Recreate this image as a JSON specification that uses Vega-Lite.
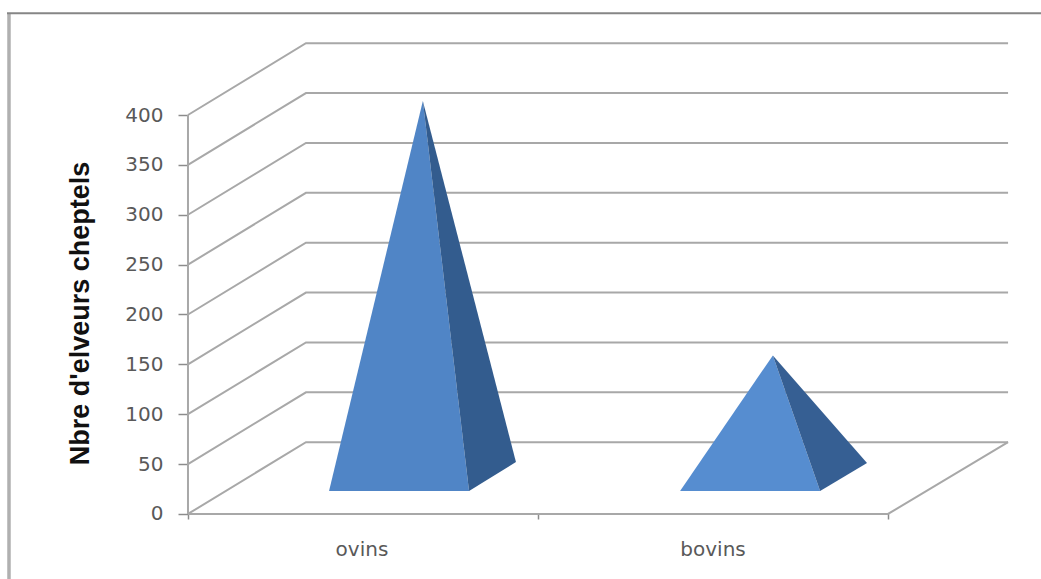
{
  "$schema": "https://vega.github.io/schema/vega-lite/v6.json",
  "width": 1041,
  "height": 579,
  "padding": 0,
  "autosize": {"type": "none"},
  "background": "#ffffff",
  "view": {"stroke": null},
  "config": {"axis": {"grid": false}},
  "datasets": {
    "frameLeft": [
      {"x": -0.5114, "y": -65.2},
      {"x": -0.5114, "y": 502}
    ],
    "frameTop": [
      {"x": -0.5171, "y": 502},
      {"x": 2.4371, "y": 502}
    ],
    "walls": [
      {"level": 0, "x": 0, "y": 0}, {"level": 0, "x": 0.337, "y": 72}, {"level": 0, "x": 2.343, "y": 72},
      {"level": 50, "x": 0, "y": 50}, {"level": 50, "x": 0.337, "y": 122}, {"level": 50, "x": 2.343, "y": 122},
      {"level": 100, "x": 0, "y": 100}, {"level": 100, "x": 0.337, "y": 172}, {"level": 100, "x": 2.343, "y": 172},
      {"level": 150, "x": 0, "y": 150}, {"level": 150, "x": 0.337, "y": 222}, {"level": 150, "x": 2.343, "y": 222},
      {"level": 200, "x": 0, "y": 200}, {"level": 200, "x": 0.337, "y": 272}, {"level": 200, "x": 2.343, "y": 272},
      {"level": 250, "x": 0, "y": 250}, {"level": 250, "x": 0.337, "y": 322}, {"level": 250, "x": 2.343, "y": 322},
      {"level": 300, "x": 0, "y": 300}, {"level": 300, "x": 0.337, "y": 372}, {"level": 300, "x": 2.343, "y": 372},
      {"level": 350, "x": 0, "y": 350}, {"level": 350, "x": 0.337, "y": 422}, {"level": 350, "x": 2.343, "y": 422},
      {"level": 400, "x": 0, "y": 400}, {"level": 400, "x": 0.337, "y": 472}, {"level": 400, "x": 2.343, "y": 472},
      {"level": -1, "x": 0, "y": 0}, {"level": -1, "x": 0, "y": 400},
      {"level": -2, "x": 0, "y": 0}, {"level": -2, "x": 2, "y": 0}, {"level": -2, "x": 2.343, "y": 72}
    ],
    "pyramids": [
      {"face": "ovins front", "x": 0.403, "y": 23.1, "base": 23.1},
      {"face": "ovins front", "x": 0.671, "y": 414, "base": 23.1},
      {"face": "ovins front", "x": 0.803, "y": 23.1, "base": 23.1},
      {"face": "ovins side", "x": 0.671, "y": 414, "base": 414},
      {"face": "ovins side", "x": 0.803, "y": 234.5, "base": 23.1},
      {"face": "ovins side", "x": 0.937, "y": 52.1, "base": 52.1},
      {"face": "bovins front", "x": 1.406, "y": 23.1, "base": 23.1},
      {"face": "bovins front", "x": 1.671, "y": 159, "base": 23.1},
      {"face": "bovins front", "x": 1.806, "y": 23.1, "base": 23.1},
      {"face": "bovins side", "x": 1.671, "y": 159, "base": 159},
      {"face": "bovins side", "x": 1.806, "y": 104.8, "base": 23.1},
      {"face": "bovins side", "x": 1.94, "y": 51, "base": 51}
    ],
    "categories": [
      {"label": "ovins", "x": 0.497, "y": -36},
      {"label": "bovins", "x": 1.5, "y": -36}
    ]
  },
  "encoding": {
    "x": {
      "field": "x",
      "type": "quantitative",
      "scale": {"domain": [-0.5371, 2.4371], "nice": false, "zero": false},
      "axis": {
        "orient": "bottom",
        "offset": -66,
        "values": [0, 1, 2],
        "labels": false,
        "domain": false,
        "ticks": true,
        "tickSize": 6,
        "tickWidth": 1.5,
        "tickColor": "#8c8c8c",
        "title": null
      }
    },
    "y": {
      "field": "y",
      "type": "quantitative",
      "stack": null,
      "scale": {"domain": [-65.2, 515.3], "nice": false, "zero": false},
      "axis": {
        "orient": "left",
        "offset": -188,
        "values": [0, 50, 100, 150, 200, 250, 300, 350, 400],
        "domain": false,
        "tickSize": 10,
        "tickWidth": 1.5,
        "tickColor": "#8c8c8c",
        "labelFont": "DejaVu Sans",
        "labelFontSize": 20,
        "labelColor": "#595959",
        "labelPadding": 15,
        "title": "Nbre d'elveurs cheptels",
        "titleFont": "Liberation Sans",
        "titleFontWeight": "bold",
        "titleFontSize": 27,
        "titleColor": "#111111",
        "titleX": -100,
        "titleY": 313,
        "titleBaseline": "alphabetic"
      }
    }
  },
  "layer": [
    {
      "data": {"name": "frameLeft"},
      "mark": {"type": "line", "stroke": "#b0b0b0", "strokeWidth": 3.5},
      "encoding": {}
    },
    {
      "data": {"name": "frameTop"},
      "mark": {"type": "line", "stroke": "#868686", "strokeWidth": 2},
      "encoding": {}
    },
    {
      "data": {"name": "walls"},
      "mark": {"type": "line", "stroke": "#a8a8a8", "strokeWidth": 2},
      "encoding": {"detail": {"field": "level"}}
    },
    {
      "data": {"name": "pyramids"},
      "mark": {"type": "area", "interpolate": "linear", "orient": "vertical"},
      "encoding": {
        "y2": {"field": "base"},
        "color": {
          "field": "face",
          "type": "nominal",
          "legend": null,
          "scale": {
            "domain": ["ovins front", "ovins side", "bovins front", "bovins side"],
            "range": ["#5085c6", "#335c8e", "#568dd0", "#365f93"]
          }
        }
      }
    },
    {
      "data": {"name": "categories"},
      "mark": {"type": "text", "font": "DejaVu Sans", "fontSize": 20, "color": "#595959"},
      "encoding": {"text": {"field": "label"}}
    }
  ]
}
